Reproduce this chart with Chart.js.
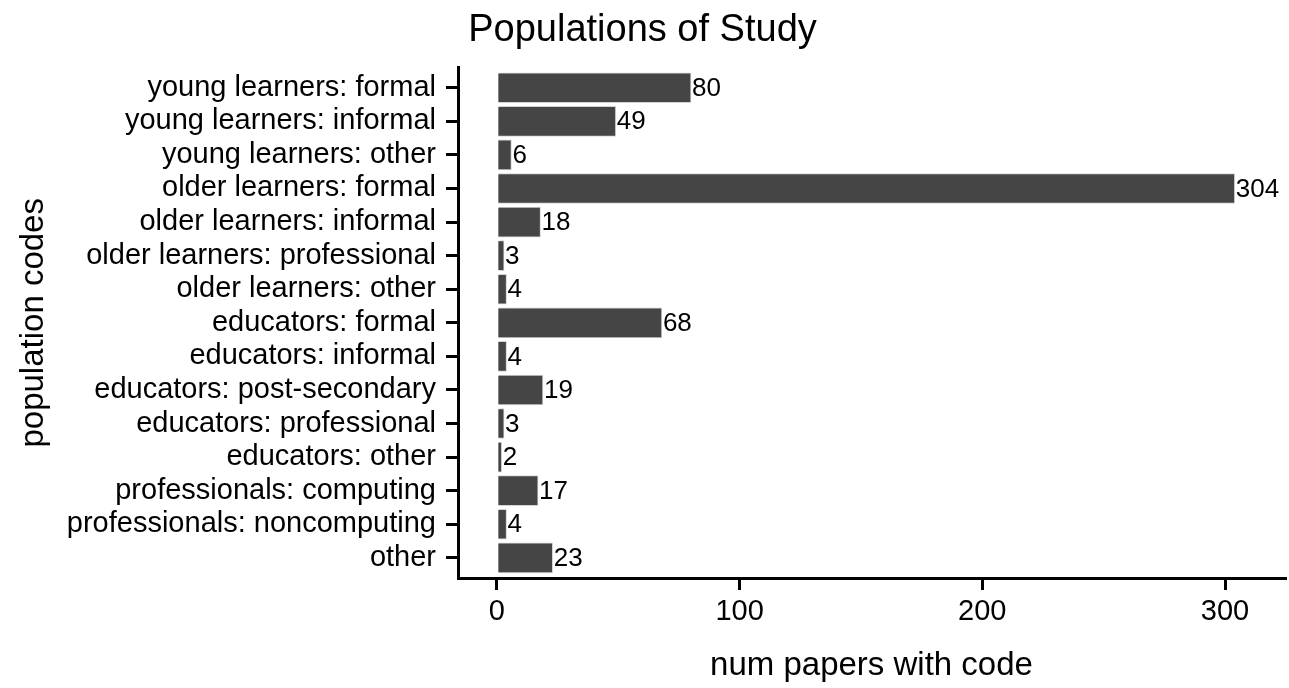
<!DOCTYPE html>
<html>
<head>
<meta charset="utf-8">
<script src="https://cdn.jsdelivr.net/npm/chart.js@4/dist/chart.umd.min.js"></script>
<style>
  html, body { margin: 0; padding: 0; background: #fff; }
  #wrap { width: 1289px; height: 688px; }
</style>
</head>
<body>
<div id="wrap"><canvas id="popChart"></canvas></div>
<script>
const categories = [
    'young learners: formal', 'young learners: informal', 'young learners: other',
    'older learners: formal', 'older learners: informal', 'older learners: professional',
    'older learners: other', 'educators: formal', 'educators: informal',
    'educators: post-secondary', 'educators: professional', 'educators: other',
    'professionals: computing', 'professionals: noncomputing', 'other'
];
const paperCounts = [80, 49, 6, 304, 18, 3, 4, 68, 4, 19, 3, 2, 17, 4, 23];
const xTicks = [0, 100, 200, 300];

Chart.defaults.font.family = '"Liberation Sans", Arial, Helvetica, sans-serif';
Chart.defaults.color = '#000';

// write the count just past the end of each bar
const barLabels = {
    id: 'barLabels',
    afterDatasetsDraw(chart) {
        const ctx = chart.ctx;
        const meta = chart.getDatasetMeta(0);
        ctx.save();
        ctx.font = '26px "Liberation Sans", Arial, sans-serif';
        ctx.fillStyle = '#000';
        ctx.textAlign = 'left';
        ctx.textBaseline = 'middle';
        meta.data.forEach((bar, i) => {
            ctx.fillText(String(paperCounts[i]), bar.x + 1, bar.y + 1);
        });
        ctx.restore();
    }
};

new Chart(
    document.getElementById('popChart'),
    {
        type: 'bar',
        data: {
            labels: categories,
            datasets: [{
                data: paperCounts,
                backgroundColor: '#454545',
                borderColor: '#d4d4d4',
                borderWidth: 1,
                barThickness: 30
            }]
        },
        options: {
            indexAxis: 'y',
            responsive: true,
            maintainAspectRatio: false,
            animation: false,
            layout: { padding: { left: 0, right: 4, top: 0, bottom: 0 } },
            plugins: {
                legend: { display: false },
                tooltip: { enabled: false },
                title: {
                    display: true,
                    text: 'Populations of Study',
                    font: { size: 38, weight: 'normal' },
                    color: '#000',
                    padding: { top: 8, bottom: 14 }
                }
            },
            scales: {
                x: {
                    type: 'linear',
                    min: -16,
                    max: 324.7,
                    afterBuildTicks: (scale) => {
                        scale.ticks = xTicks.map(v => ({ value: v }));
                    },
                    afterFit: (scale) => { scale.height = 110; },
                    ticks: {
                        font: { size: 29 },
                        color: '#000',
                        padding: 5,
                        maxRotation: 0
                    },
                    grid: {
                        display: true,
                        drawOnChartArea: false,
                        drawTicks: true,
                        tickLength: 12,
                        color: '#000',
                        lineWidth: 3
                    },
                    border: { display: true, color: '#000', width: 3 },
                    title: {
                        display: true,
                        text: 'num papers with code',
                        font: { size: 33 },
                        color: '#000',
                        padding: { top: 0, bottom: 2 }
                    }
                },
                y: {
                    type: 'category',
                    offset: true,
                    // ggplot style: 0.6 of a band of space above and below
                    afterBuildTicks: (scale) => {
                        scale._startValue = -0.6;
                        scale._valueRange = categories.length + 0.2;
                    },
                    afterFit: (scale) => { scale.width = 458; },
                    ticks: {
                        font: { size: 29 },
                        color: '#000',
                        padding: 10,
                        autoSkip: false
                    },
                    grid: {
                        display: true,
                        offset: false,
                        drawOnChartArea: false,
                        drawTicks: true,
                        tickLength: 12,
                        color: '#000',
                        lineWidth: 3
                    },
                    border: { display: true, color: '#000', width: 3 },
                    title: {
                        display: true,
                        text: 'population codes',
                        font: { size: 33 },
                        color: '#000',
                        padding: { top: 14, bottom: 0 }
                    }
                }
            }
        },
        plugins: [barLabels]
    }
);
</script>
</body>
</html>
